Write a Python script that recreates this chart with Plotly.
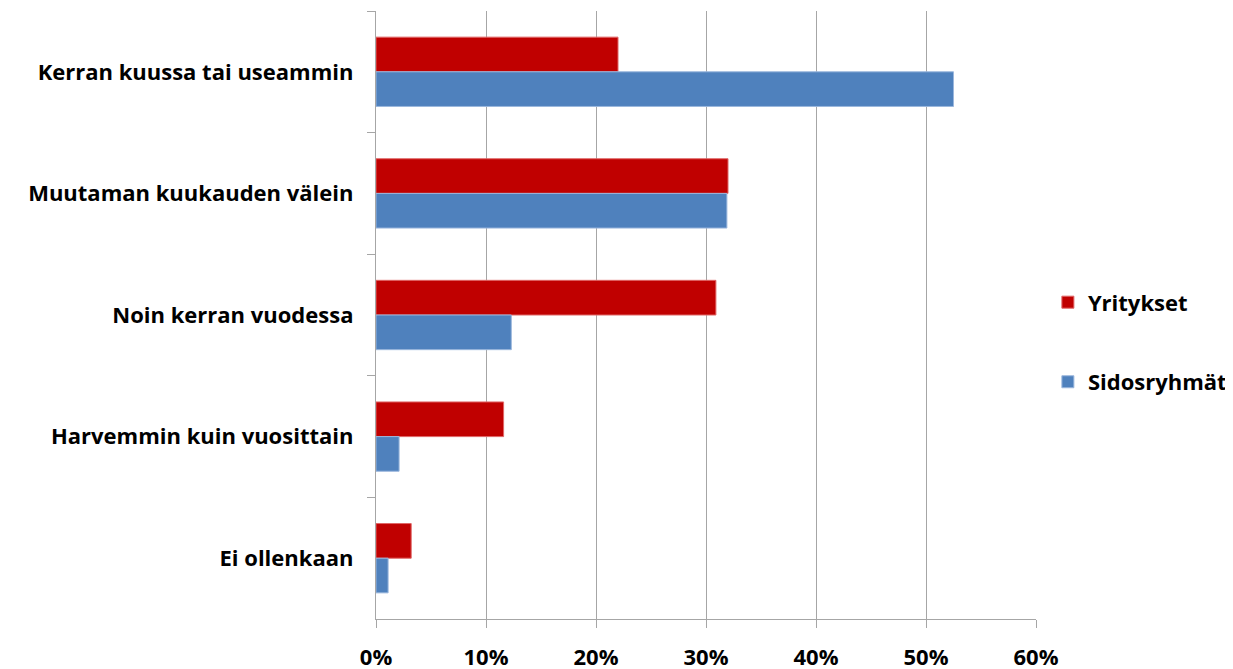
import plotly.graph_objects as go

categories = ["Kerran kuussa tai useammin", "Muutaman kuukauden välein",
              "Noin kerran vuodessa", "Harvemmin kuin vuosittain", "Ei ollenkaan"]
yritykset = [22.0, 32.0, 30.9, 11.6, 3.2]
sidosryhmat = [52.5, 31.9, 12.3, 2.1, 1.1]
x_ticks = [0, 10, 20, 30, 40, 50, 60]
x_tick_labels = ["0%", "10%", "20%", "30%", "40%", "50%", "60%"]

FONT = "Open Sans"
FS = 22

fig = go.Figure()
fig.add_trace(go.Bar(y=categories, x=yritykset, name="Yritykset", orientation="h",
                     marker=dict(color="#C00000", line=dict(color="#E06666", width=1)),
                     legendgroup="a"))
fig.add_trace(go.Bar(y=categories, x=sidosryhmat, name="Sidosryhmät", orientation="h",
                     marker=dict(color="#4F81BD", line=dict(color="#9BB7DD", width=1)),
                     legendgroup="b"))

fig.update_layout(
    width=1233, height=669,
    barmode="group", bargap=0.43, bargroupgap=0,
    plot_bgcolor="white", paper_bgcolor="white",
    margin=dict(l=368, r=205, t=3, b=58),
    font=dict(family=FONT, size=FS, color="#000000", weight="bold"),
    legend=dict(x=1.018, y=0.455, yanchor="middle", xanchor="left",
                font=dict(family=FONT, size=FS, color="#000000", weight="bold"),
                tracegroupgap=48, traceorder="grouped", itemwidth=30),
    showlegend=True,
)
fig.update_xaxes(range=[0, 60], tickvals=x_ticks, ticktext=x_tick_labels,
                 showgrid=True, gridcolor="#A6A6A6", gridwidth=1,
                 showline=True, linecolor="#A6A6A6", linewidth=1,
                 ticks="outside", ticklen=8, tickcolor="#A6A6A6",
                 ticklabelstandoff=11,
                 tickfont=dict(family=FONT, size=FS, color="#000000", weight="bold"),
                 zeroline=False)
fig.update_yaxes(autorange="reversed", showline=True, linecolor="#A6A6A6", linewidth=1,
                 ticks="outside", ticklen=8, tickcolor="#A6A6A6", tickson="boundaries",
                 showgrid=False, ticksuffix="\u00a0\u00a0\u00a0",
                 tickfont=dict(family=FONT, size=FS, color="#000000", weight="bold"))

fig.write_html("out.html")
